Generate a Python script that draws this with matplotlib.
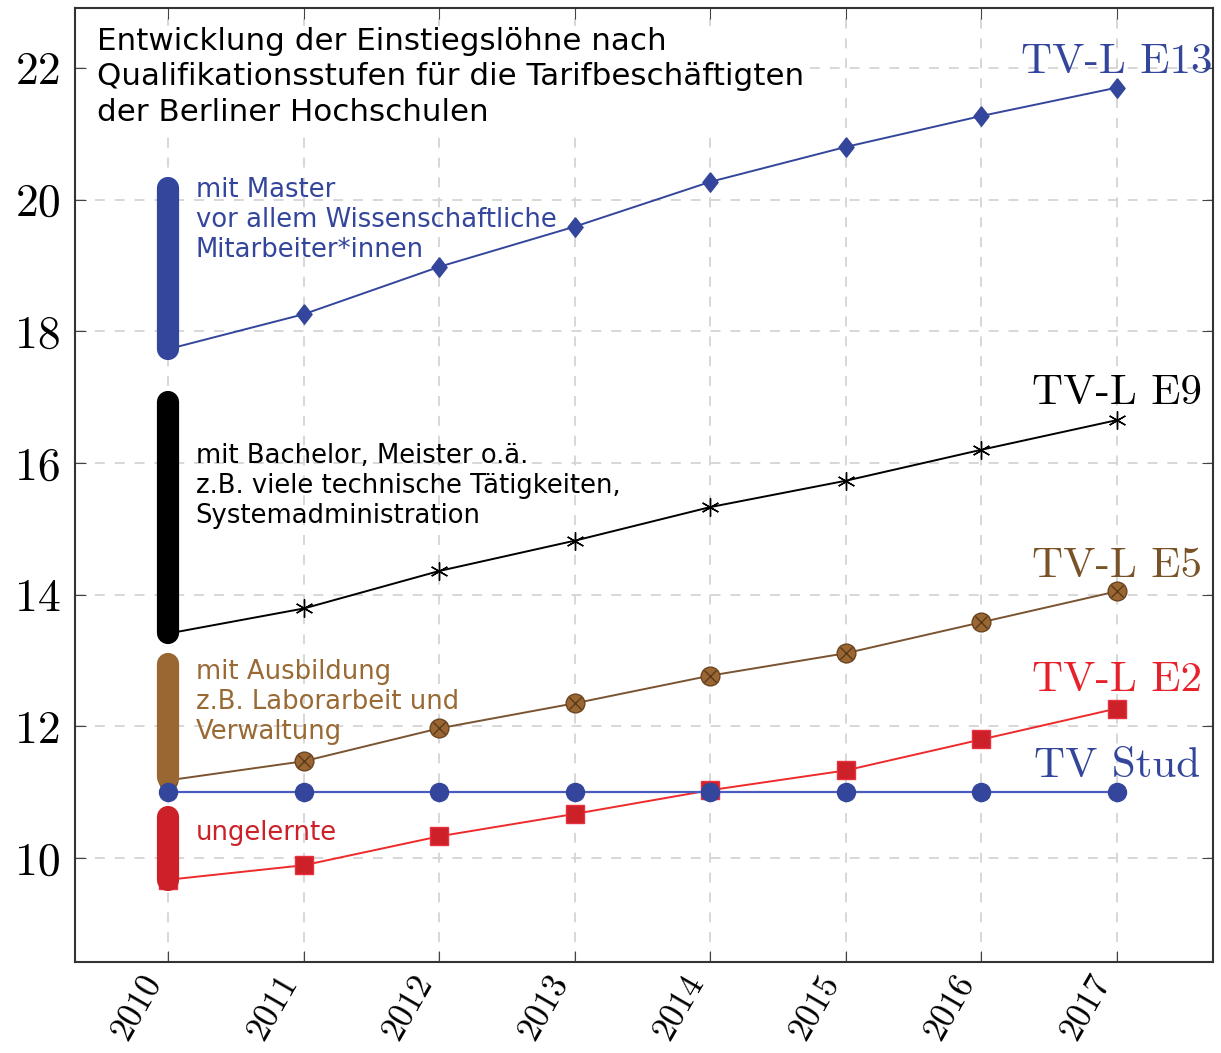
import numpy as np
import matplotlib.pyplot as plt

years = [2010, 2011, 2012, 2013, 2014, 2015, 2016, 2017]
e13 = [17.73, 18.26, 18.98, 19.59, 20.27, 20.80, 21.27, 21.70]
e9 = [13.41, 13.79, 14.36, 14.82, 15.33, 15.73, 16.20, 16.65]
e5 = [11.18, 11.47, 11.97, 12.35, 12.77, 13.11, 13.58, 14.05]
e2 = [9.67, 9.89, 10.33, 10.67, 11.03, 11.33, 11.80, 12.27]
stud = [11.0, 11.0, 11.0, 11.0, 11.0, 11.0, 11.0, 11.0]

# Spannen der Qualifikationsstufen (bei 2010)
range_master = [17.73, 20.17]
range_bachelor = [13.42, 16.92]
range_ausbildung = [11.23, 12.94]
range_ungelernt = [9.67, 10.62]

blue = '#34469b'
brown = '#9a6632'
brown_line = '#7a5430'
red = '#cc2128'
red_line = '#ee2a2a'

fig = plt.figure(figsize=(12.21, 10.53), dpi=100)
ax = fig.add_axes([0.0614, 0.0864, 0.932, 0.906])

# dicke Balken
ax.plot([2010, 2010], range_master, color=blue, lw=16, solid_capstyle='round', zorder=4)
ax.plot([2010, 2010], range_bachelor, color='black', lw=16, solid_capstyle='round', zorder=4)
ax.plot([2010, 2010], range_ausbildung, color=brown, lw=16, solid_capstyle='round', zorder=4)
ax.plot([2010, 2010], range_ungelernt, color=red, lw=16, solid_capstyle='round', zorder=4)

# Linien
diamond = [(0, 1), (0.78, 0), (0, -1), (-0.78, 0), (0, 1)]
ax.plot(years, stud, color='#4a5cc0', lw=1.6, marker='o', ms=13, mfc=blue, mec=blue, zorder=5)
ax.plot(years, e13, color=blue, lw=1.4, marker=diamond, ms=14, mfc=blue, mec=blue, zorder=3)
ax.plot(years, e9, color='black', lw=1.4, marker=(6, 2, 0), ms=13, mew=1.0, mec='black', zorder=3)
ax.plot(years, e5, color=brown_line, lw=1.4, marker='o', ms=13.5, mfc=brown, mec='#6a4420', mew=1.0, zorder=3)
ax.plot(years, e5, ls='none', marker='x', ms=8.5, mec='#5a3a1a', mew=1.0, zorder=3)
ax.plot(years, e2, color=red_line, lw=1.4, marker='s', ms=13, mfc=red, mec='#e83040', zorder=3)

# Beschriftungen der Reihen
lab_font = 'cmr10'
ax.text(2017, 21.92, 'TV-L E13', color=blue, fontsize=31, ha='center', va='baseline', family=lab_font)
ax.text(2017, 16.89, 'TV-L E9', color='black', fontsize=31, ha='center', va='baseline', family=lab_font)
ax.text(2017, 14.27, 'TV-L E5', color='#7a5228', fontsize=31, ha='center', va='baseline', family=lab_font)
ax.text(2017, 12.53, 'TV-L E2', color='#e8202a', fontsize=31, ha='center', va='baseline', family=lab_font)
ax.text(2017, 11.23, 'TV Stud', color=blue, fontsize=31, ha='center', va='baseline', family=lab_font)

# Erklärungen
ax.text(2010.2, 20.35, 'mit Master\nvor allem Wissenschaftliche\nMitarbeiter*innen',
        color=blue, fontsize=18.6, va='top', ha='left', linespacing=1.2)
ax.text(2010.2, 16.31, 'mit Bachelor, Meister o.ä.\nz.B. viele technische Tätigkeiten,\nSystemadministration',
        color='black', fontsize=18.6, va='top', ha='left', linespacing=1.2)
ax.text(2010.2, 13.02, 'mit Ausbildung\nz.B. Laborarbeit und\nVerwaltung',
        color='#9a6a35', fontsize=18.6, va='top', ha='left', linespacing=1.2)
ax.text(2010.2, 10.57, 'ungelernte', color=red, fontsize=18.6, va='top', ha='left')

ax.text(2009.47, 22.62, 'Entwicklung der Einstiegslöhne nach\nQualifikationsstufen für die Tarifbeschäftigten\nder Berliner Hochschulen',
        color='black', fontsize=22.3, va='top', ha='left', linespacing=1.27,
        bbox=dict(facecolor='white', edgecolor='none', pad=1), zorder=6)

ax.set_xlim(2009.31, 2017.71)
ax.set_ylim(8.42, 22.91)
ax.set_xticks(years)
ax.set_xticklabels([str(y) for y in years], rotation=60, ha='right', va='bottom',
                   rotation_mode='anchor', family=lab_font, fontsize=25)
yt = [10, 12, 14, 16, 18, 20, 22]
ax.set_yticks(yt)
ax.set_yticklabels([str(v) for v in yt], family=lab_font, fontsize=33)
ax.tick_params(direction='in', length=8, width=0.8, color='#444444', top=True, right=True)
ax.tick_params(axis='x', pad=17)
ax.tick_params(axis='y', pad=10)
ax.grid(True, color='#d4d4d4', ls=(0, (5.5, 5.5)), lw=1.3, zorder=0)
ax.set_axisbelow(True)
for s in ax.spines.values():
    s.set_color('#333333')
    s.set_linewidth(1.5)

fig.savefig('out.png', dpi=100)
